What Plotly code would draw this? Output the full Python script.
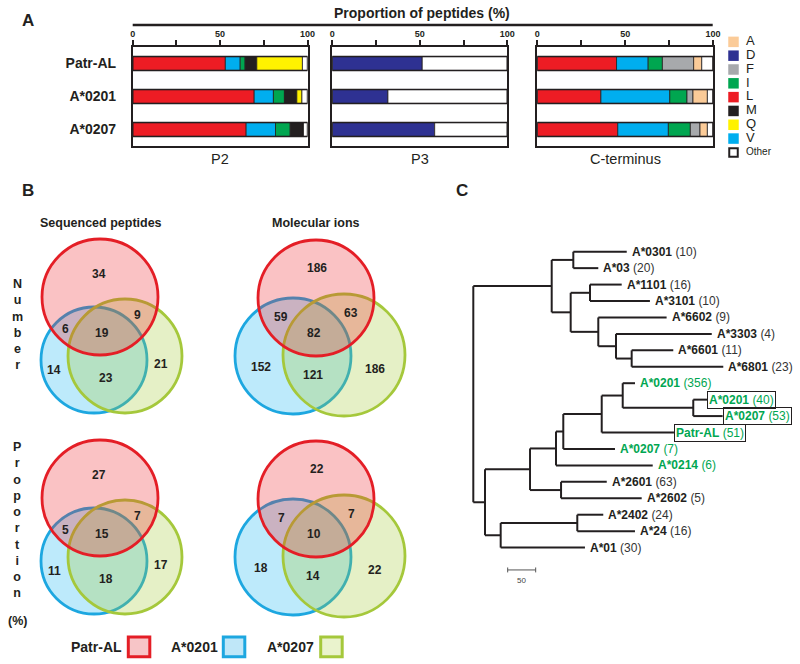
import plotly.graph_objects as go
import numpy as np

FONT = "Liberation Sans, Arial, sans-serif"
W, H = 800, 664
INK = "#231F20"

def fx(px):
    return px / W

def fy(py):
    return 1 - py / H

# ---------------- DATA ----------------
ROWS = ["Patr-AL", "A*0201", "A*0207"]

P2_RESIDUES = ["L", "V", "I", "M", "Q", "Other"]
P2_VALUES = [
    [53.0, 69.5, 64.9],   # L
    [8.5, 11.0, 16.8],    # V
    [2.8, 6.3, 8.4],      # I
    [6.7, 7.1, 7.6],      # M
    [26.1, 2.9, 0.0],     # Q
    [2.9, 3.2, 2.3],      # Other
]
P3_RESIDUES = ["D", "Other"]
P3_VALUES = [
    [51.4, 31.8, 58.5],   # D
    [48.6, 68.2, 41.5],   # Other
]
CT_RESIDUES = ["L", "V", "I", "F", "A", "Other"]
CT_VALUES = [
    [45.1, 36.2, 45.8],   # L
    [18.0, 39.2, 28.8],   # V
    [8.1, 9.8, 12.5],     # I
    [17.8, 3.4, 5.5],     # F
    [4.6, 8.2, 4.2],      # A
    [6.4, 3.2, 3.2],      # Other
]
LEGEND_RESIDUES = ["A", "D", "F", "I", "L", "M", "Q", "V", "Other"]
AXIS_TICKS = [0, 25, 50, 75, 100]
AXIS_TICKTEXT = ["<b>0</b>", "", "<b>50</b>", "", "<b>100</b>"]

# Venn region counts, order: R only, B only, G only, R&B, R&G, B&G, R&B&G
VENN_REGIONS = ["R", "B", "G", "RB", "RG", "BG", "RBG"]
SEQ_NUMBER = [34, 14, 21, 6, 9, 23, 19]
ION_NUMBER = [186, 152, 186, 59, 63, 121, 82]
SEQ_PROPORTION = [27, 11, 17, 5, 7, 18, 15]
ION_PROPORTION = [22, 18, 22, 7, 7, 14, 10]
VENN_SETS = ["Patr-AL", "A*0201", "A*0207"]

# Tree leaves (top to bottom): name, number of peptides, highlighted, boxed
LEAF_NAMES = ["A*0301", "A*03", "A*1101", "A*3101", "A*6602", "A*3303", "A*6601",
              "A*6801", "A*0201", "A*0201", "A*0207", "Patr-AL", "A*0207", "A*0214",
              "A*2601", "A*2602", "A*2402", "A*24", "A*01"]
LEAF_COUNTS = [10, 20, 16, 10, 9, 4, 11, 23, 356, 40, 53, 51, 7, 6, 63, 5, 24, 16, 30]
LEAF_GREEN = [False] * 8 + [True] * 6 + [False] * 5
LEAF_BOXED = [False] * 9 + [True, True, True] + [False] * 7
# (branch length, children | leaf index)
TREE = (0, [
    (140, [
        (38.6, [(95.4, 0), (44.6, 1)]),
        (33.9, [
            (34.5, [(56.6, 2), (107, 3)]),
            (49.3, [(122, 4), (31.6, [(171, 5), (28, [(74.3, 6), (163.6, 7)])])]),
        ]),
    ]),
    (20.9, [
        (80.4, [
            (46.4, [
                (13, [
                    (68.6, [
                        (37.5, [(22, 8), (126, [(24.5, 9), (52.5, 10)])]),
                        (129, 11),
                    ]),
                    (92.3, 12),
                ]),
                (172.7, 13),
            ]),
            (55.4, [(81.6, 14), (144, 15)]),
        ]),
        (28, [(136.8, [(46.4, 16), (103, 17)]), (150.5, 18)]),
    ]),
])
SCALE_BAR = 50

# ---------------- STYLE ----------------
RES_COLORS = {"A": "#FBCB98", "D": "#2E3192", "F": "#A7A9AC", "I": "#00A650",
              "L": "#ED1C24", "M": "#231F20", "Q": "#FFF200", "V": "#00AEEF",
              "Other": "#FFFFFF"}
SET_LINE = {"R": "#E41E26", "B": "#1DA7E0", "G": "#A5C83B"}
SET_FILL = {"R": "rgba(237,28,36,0.27)", "B": "rgba(0,174,239,0.26)",
            "G": "rgba(160,200,50,0.28)"}
SET_BOX = {"R": "#F7C5C7", "B": "#BFE7F8", "G": "#EAF3CD"}
GREEN_TXT = "#00A651"

fig = go.Figure()

# ---------------- PANEL A: stacked bars ----------------
def add_stack(xa, ya, residues, values):
    cum = np.zeros(len(ROWS))
    for res, vals in zip(residues, values):
        vals = np.array(vals, dtype=float)
        fig.add_trace(go.Bar(x=vals, y=ROWS, base=cum.copy(), orientation="h",
                             width=0.42, marker=dict(color=RES_COLORS[res],
                                                     line=dict(width=0.8, color=INK)),
                             xaxis=xa, yaxis=ya, showlegend=False, hoverinfo="skip"))
        cum += vals
    fig.add_trace(go.Bar(x=cum, y=ROWS, base=[0] * len(ROWS), orientation="h", width=0.42,
                         marker=dict(color="rgba(0,0,0,0)", line=dict(width=1.4, color=INK)),
                         xaxis=xa, yaxis=ya, showlegend=False, hoverinfo="skip"))

add_stack("x", "y", P2_RESIDUES, P2_VALUES)
add_stack("x2", "y2", P3_RESIDUES, P3_VALUES)
add_stack("x3", "y3", CT_RESIDUES, CT_VALUES)

bar_x_domains = [(132.7, 307.5), (332.3, 507.3), (537.3, 713.0)]
bar_y_domain = [fy(146), fy(47)]
for i, (a, b) in enumerate(bar_x_domains, start=1):
    sx = "" if i == 1 else str(i)
    fig.update_layout(**{
        f"xaxis{sx}": dict(domain=[fx(a), fx(b)], anchor=f"y{sx}", side="top", range=[0, 100],
                           showline=True, mirror=True, linecolor=INK, linewidth=1.5,
                           ticks="outside", ticklen=5, tickwidth=1.5, tickcolor=INK,
                           tickvals=AXIS_TICKS, ticktext=AXIS_TICKTEXT,
                           tickfont=dict(size=9, color=INK, family=FONT),
                           showgrid=False, zeroline=False, fixedrange=True, automargin=False),
        f"yaxis{sx}": dict(domain=bar_y_domain, anchor=f"x{sx}", type="category",
                           categoryorder="array", categoryarray=ROWS, autorange="reversed",
                           showline=True, mirror=True, linecolor=INK, linewidth=1.5,
                           ticks="", showticklabels=(i == 1), ticklabelstandoff=12,
                           tickfont=dict(size=14, color=INK, family=FONT, weight="bold"),
                           showgrid=False, zeroline=False, fixedrange=True, automargin=False),
    })

# legend of residues
fig.add_trace(go.Scatter(
    x=[0] * len(LEGEND_RESIDUES), y=LEGEND_RESIDUES, mode="markers",
    marker=dict(symbol="square", size=[10.5] * 8 + [8.5], opacity=1,
                color=[RES_COLORS[r] for r in LEGEND_RESIDUES],
                line=dict(width=[0] * 8 + [2], color=INK)),
    xaxis="x4", yaxis="y4", showlegend=False, hoverinfo="skip", cliponaxis=False))
fig.add_trace(go.Scatter(
    x=[1] * len(LEGEND_RESIDUES), y=LEGEND_RESIDUES, mode="text", text=LEGEND_RESIDUES,
    textposition="middle right",
    textfont=dict(size=[13] * 8 + [10], color=INK, family=FONT),
    xaxis="x4", yaxis="y4", showlegend=False, hoverinfo="skip", cliponaxis=False))
fig.update_layout(
    xaxis4=dict(domain=[fx(720), 1], range=[-1.08, 5.32], visible=False, anchor="y4",
                fixedrange=True, automargin=False),
    yaxis4=dict(domain=[fy(164.5), fy(28.5)], type="category", categoryorder="array",
                categoryarray=LEGEND_RESIDUES, autorange="reversed", visible=False,
                anchor="x4", fixedrange=True, automargin=False),
)

shapes = []
annotations = []

shapes.append(dict(type="line", xref="paper", yref="paper", x0=fx(132.7), x1=fx(712.7),
                   y0=fy(25), y1=fy(25), line=dict(color=INK, width=2.5)))

def pann(text, x, y, size, bold=False, xanchor="center", color=INK, **kw):
    annotations.append(dict(text=f"<b>{text}</b>" if bold else text, x=fx(x), y=fy(y),
                            xref="paper", yref="paper", showarrow=False, xanchor=xanchor,
                            yanchor="middle", font=dict(size=size, color=color, family=FONT), **kw))

pann("A", 28, 20, 17, bold=True)
pann("B", 28, 190, 17, bold=True)
pann("C", 462, 190, 17, bold=True)
pann("Proportion of peptides (%)", 422.5, 13, 14, bold=True)
pann("P2", 220, 159, 14.5)
pann("P3", 420, 159, 14.5)
pann("C-terminus", 625, 159, 14.5)

# ---------------- PANEL B: Venn diagrams ----------------
SEQ_CIRCLES = {"R": (100, 297, 58), "B": (94, 360, 53), "G": (125, 356, 57)}
SEQ_LABELS = {"R": (99, 274), "B": (54, 370), "G": (161, 364), "RB": (65, 329),
              "RG": (137, 315), "BG": (106, 378), "RBG": (101.5, 333)}
ION_CIRCLES = {"R": (316, 298, 58), "B": (293, 356, 58), "G": (344, 355, 61)}
ION_LABELS = {"R": (317, 268), "B": (261, 367), "G": (375, 369), "RB": (281, 317),
              "RG": (351, 313), "BG": (313, 375), "RBG": (314, 333)}

fig.add_trace(go.Scatter(x=[0], y=[0], mode="markers", marker=dict(opacity=0),
                         xaxis="x5", yaxis="y5", showlegend=False, hoverinfo="skip"))
fig.add_trace(go.Scatter(x=[0], y=[0], mode="markers", marker=dict(opacity=0),
                         xaxis="x5", yaxis="y6", showlegend=False, hoverinfo="skip"))
fig.update_layout(
    xaxis5=dict(domain=[0, fx(450)], range=[0, 450], visible=False, anchor="y5",
                fixedrange=True, automargin=False),
    yaxis5=dict(domain=[fy(420), fy(230)], range=[420, 230], visible=False, anchor="x5",
                fixedrange=True, automargin=False),
    yaxis6=dict(domain=[fy(621), fy(431)], range=[420, 230], visible=False, anchor="x5",
                fixedrange=True, automargin=False),
)

def add_venn(yref, circles, labels, counts):
    for key in ["B", "G", "R"]:
        cx, cy, r = circles[key]
        shapes.append(dict(type="circle", xref="x5", yref=yref, x0=cx - r, x1=cx + r,
                           y0=cy - r, y1=cy + r, fillcolor=SET_FILL[key],
                           line=dict(color=SET_LINE[key], width=2.8), layer="above"))
    for reg, val in zip(VENN_REGIONS, counts):
        lx, ly = labels[reg]
        annotations.append(dict(text=f"<b>{val}</b>", x=lx, y=ly, xref="x5", yref=yref,
                                showarrow=False, font=dict(size=12, color=INK, family=FONT)))

add_venn("y5", SEQ_CIRCLES, SEQ_LABELS, SEQ_NUMBER)
add_venn("y5", ION_CIRCLES, ION_LABELS, ION_NUMBER)
add_venn("y6", SEQ_CIRCLES, SEQ_LABELS, SEQ_PROPORTION)
add_venn("y6", ION_CIRCLES, ION_LABELS, ION_PROPORTION)

pann("Sequenced peptides", 101, 223, 12.5, bold=True)
pann("Molecular ions", 316, 223, 12.5, bold=True)
pann("<br>".join("Number"), 17, 324, 12.5, bold=True)
pann("<br>".join("Proportion"), 17, 520, 12.5, bold=True)
pann("(%)", 17, 621, 12.5, bold=True)

legend_b = [("R", 124, 128.3), ("B", 220, 223.3), ("G", 316, 320.7)]
for (key, tx, bx), name in zip(legend_b, VENN_SETS):
    pann(name, tx, 647, 14, bold=True, xanchor="right")
    shapes.append(dict(type="rect", xref="paper", yref="paper", x0=fx(bx), x1=fx(bx + 21.5),
                       y0=fy(656.7), y1=fy(637), fillcolor=SET_BOX[key],
                       line=dict(color=SET_LINE[key], width=3)))

# ---------------- PANEL C: tree ----------------
segs = []
leaf_x = {}

def layout_tree(node, x_parent):
    bl, content = node
    x = x_parent + bl
    if isinstance(content, int):
        y = content
        leaf_x[content] = x
    else:
        ys = [layout_tree(ch, x) for ch in content]
        y = (min(ys) + max(ys)) / 2
        segs.append(((x, min(ys)), (x, max(ys))))
    if bl > 0:
        segs.append(((x_parent, y), (x, y)))
    return y

layout_tree(TREE, 0)
tx, ty = [], []
for (x0, y0), (x1, y1) in segs:
    tx += [x0, x1, None]
    ty += [y0, y1, None]
fig.add_trace(go.Scatter(x=tx, y=ty, mode="lines", line=dict(color=INK, width=2),
                         xaxis="x6", yaxis="y7", showlegend=False, hoverinfo="skip"))

# scale bar
sb0 = 61.4
sby = 19.36
fig.add_trace(go.Scatter(
    x=[sb0, sb0 + SCALE_BAR, None, sb0, sb0, None, sb0 + SCALE_BAR, sb0 + SCALE_BAR],
    y=[sby, sby, None, sby - 0.15, sby + 0.15, None, sby - 0.15, sby + 0.15],
    mode="lines", line=dict(color="#555555", width=1),
    xaxis="x6", yaxis="y7", showlegend=False, hoverinfo="skip"))
annotations.append(dict(text=str(SCALE_BAR), x=sb0 + SCALE_BAR / 2, y=sby + 0.62, xref="x6",
                        yref="y7", showarrow=False, font=dict(size=8, color="#444444", family=FONT)))

for i, (name, cnt, green, boxed) in enumerate(zip(LEAF_NAMES, LEAF_COUNTS, LEAF_GREEN, LEAF_BOXED)):
    col = GREEN_TXT if green else INK
    cnt_col = GREEN_TXT if green else "#333333"
    ann = dict(text=f"<b>{name}</b> <span style='color:{cnt_col}'>({cnt})</span>",
               x=leaf_x[i], y=i, xref="x6", yref="y7", showarrow=False, xanchor="left",
               yanchor="middle", font=dict(size=12, color=col, family=FONT))
    if boxed:
        ann.update(bordercolor=INK, borderwidth=1, borderpad=1, xshift=0)
    else:
        ann.update(xshift=3)
    annotations.append(ann)

fig.update_layout(
    xaxis6=dict(domain=[fx(460), 1], range=[-23.75, 583.4], visible=False, anchor="y7",
                fixedrange=True, automargin=False),
    yaxis7=dict(domain=[fy(590), fy(240)], range=[20.58, -0.712], visible=False, anchor="x6",
                fixedrange=True, automargin=False),
)

fig.update_layout(
    width=W, height=H, margin=dict(l=0, r=0, t=0, b=0, autoexpand=False),
    paper_bgcolor="white", plot_bgcolor="white",
    barmode="overlay", showlegend=False,
    font=dict(family=FONT, color=INK),
    shapes=shapes, annotations=annotations,
)

fig.write_html("out.html", config={"displayModeBar": False},
               post_script="document.body.style.margin='0px';document.body.style.overflow='hidden';")
